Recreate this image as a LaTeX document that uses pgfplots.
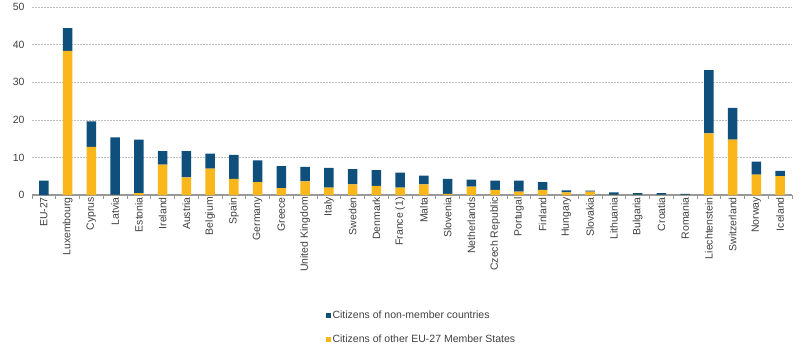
\documentclass[border=0pt]{standalone}
\usepackage{pgfplots}
\pgfplotsset{compat=1.18}
\usepackage{fontspec}
\setmainfont{Liberation Sans}
\definecolor{nonmem}{HTML}{0E4F7C}
\definecolor{othereu}{HTML}{FAB71B}
\definecolor{txt}{HTML}{404040}
\begin{document}
\begin{tikzpicture}[x=1pt,y=1pt]
\useasboundingbox (-32,-155) rectangle (771,195);
\begin{axis}[
  at={(0,0)}, anchor=south west,
  scale only axis, width=760pt, height=188pt,
  ybar stacked, bar width=9.5pt,
  xmin=-0.5, xmax=31.5, ymin=0, ymax=50,
  axis x line*=bottom, axis y line*=left,
  x axis line style={draw=gray!80, line width=1.2pt},
  y axis line style={draw=none},
  ytick={0,10,...,50},
  xtick={0,...,31},
  xticklabels={EU-27,Luxembourg,Cyprus,Latvia,Estonia,Ireland,Austria,Belgium,Spain,Germany,Greece,United Kingdom,Italy,Sweden,Denmark,France (1),Malta,Slovenia,Netherlands,Czech Republic,Portugal,Finland,Hungary,Slovakia,Lithuania,Bulgaria,Croatia,Romania,Liechtenstein,Switzerland,Norway,Iceland},
  minor xtick={-0.5,0.5,...,31.5},
  major tick length=0pt,
  minor tick length=4pt,
  tick align=outside,
  minor tick style={color=gray!80, line width=0.8pt},
  x tick label style={rotate=90, anchor=east, font=\fontsize{10.5}{12}\selectfont, text=txt, inner sep=2pt},
  y tick label style={font=\fontsize{10.5}{12}\selectfont, text=txt, xshift=-4pt},
  /pgf/number format/assume math mode=true,
  ymajorgrids, major grid style={gray!50, dash pattern=on 2pt off 1pt, line width=0.6pt},
  legend style={at={(0.386,-0.605)}, anchor=north west, draw=none, fill=none,
    font=\fontsize{10.5}{12}\selectfont, text=txt, row sep=11pt, cells={anchor=west}, inner sep=0pt},
  legend image code/.code={\fill[#1] (0pt,-2.5pt) rectangle (5pt,2.5pt);},
  reverse legend,
  clip=false,
]
\addplot[fill=othereu, draw=none] coordinates {
(0,0) (1,38.3) (2,12.8) (3,0.05) (4,0.5) (5,8.1) (6,4.7) (7,7.0) (8,4.3) (9,3.4)
(10,1.8) (11,3.65) (12,1.96) (13,2.85) (14,2.4) (15,1.96) (16,2.85) (17,0.27) (18,2.2) (19,1.33)
(20,0.9) (21,1.33) (22,0.7) (23,0.9) (24,0.05) (25,0.05) (26,0.03) (27,0.02) (28,16.4) (29,14.7)
(30,5.4) (31,5.0)};
\addlegendentry{Citizens of other EU-27 Member States}
\addplot[fill=nonmem, draw=none] coordinates {
(0,3.83) (1,6.1) (2,6.8) (3,15.25) (4,14.2) (5,3.6) (6,7.0) (7,4.0) (8,6.4) (9,5.8)
(10,5.86) (11,3.85) (12,5.24) (13,4.01) (14,4.2) (15,4.01) (16,2.31) (17,4.0) (18,1.9) (19,2.5)
(20,2.93) (21,2.07) (22,0.55) (23,0.25) (24,0.65) (25,0.45) (26,0.47) (27,0.25) (28,16.8) (29,8.5)
(30,3.5) (31,1.4)};
\addlegendentry{Citizens of non-member countries}
\end{axis}
\end{tikzpicture}
\end{document}
